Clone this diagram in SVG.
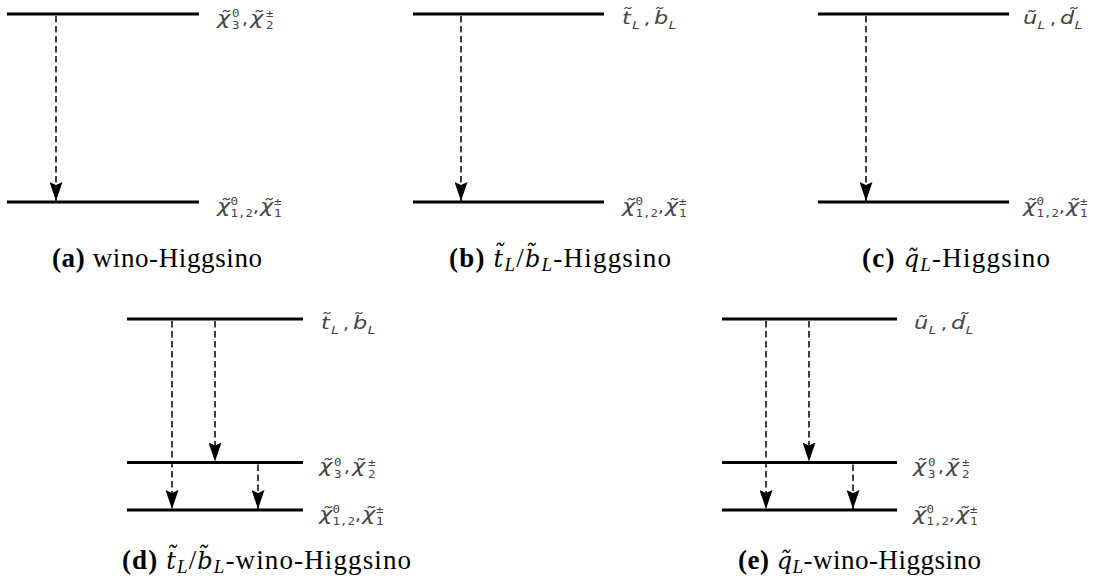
<svg xmlns="http://www.w3.org/2000/svg" width="1119" height="586" viewBox="0 0 1119 586">
<style>
.lvl{stroke:#000;stroke-width:3;fill:none}
.arr{stroke:#000;stroke-width:1.5;stroke-dasharray:6.5 3.5;fill:none;marker-end:url(#ah)}
.lb{font-family:"DejaVu Sans",sans-serif;font-size:18px;fill:#444;font-style:italic}
.sc{font-family:"DejaVu Sans Mono",monospace;font-size:10px;font-style:normal}
.sl{font-family:"DejaVu Sans Mono",monospace;font-size:11px;font-style:italic}
.cm{font-family:"DejaVu Sans",sans-serif;font-size:16px;font-style:normal}
.cap{font-family:"Liberation Serif",serif;font-size:27px;fill:#000}
.b{font-weight:bold}
.i{font-style:italic;font-family:"DejaVu Serif","Liberation Serif",serif;font-size:24px}
.s{font-size:19px;font-style:italic}
</style>
<defs>
<marker id="ah" viewBox="0 0 19 13" refX="19" refY="6.5" markerWidth="19" markerHeight="13" markerUnits="userSpaceOnUse" orient="auto">
<path d="M0,0 L19,6.5 L0,13 L3,6.5 Z" fill="#000"/>
</marker>
</defs>

<g id="panel-a">
<line class="lvl" x1="7" y1="14" x2="199" y2="14"/>
<line class="lvl" x1="7" y1="202" x2="199" y2="202"/>
<text class="lb" transform="translate(217,23.5) scale(1.25,1)"><tspan x="0" y="0">χ̃</tspan><tspan class="sc" x="12" y="-6.5">0</tspan><tspan class="sc" x="12" y="5.5">3</tspan><tspan class="cm" x="19.8" y="0">,</tspan><tspan x="26.4" y="0">χ̃</tspan><tspan class="sc" x="39.2" y="-6.5">±</tspan><tspan class="sc" x="39.2" y="5.5">2</tspan></text>
<text class="lb" transform="translate(217,211.5) scale(1.25,1)"><tspan x="0" y="0">χ̃</tspan><tspan class="sc" x="10.8" y="-6.5">0</tspan><tspan class="sc" x="10.8" y="5.5">1,2</tspan><tspan class="cm" x="28.7" y="0">,</tspan><tspan x="34.4" y="0">χ̃</tspan><tspan class="sc" x="45.6" y="-6.5">±</tspan><tspan class="sc" x="45.6" y="5.5">1</tspan></text>
<text class="cap" x="52" y="267" textLength="210" lengthAdjust="spacing"><tspan class="b">(a)</tspan> wino-Higgsino</text>
</g>

<g id="panel-b">
<line class="lvl" x1="413" y1="14" x2="604" y2="14"/>
<line class="lvl" x1="413" y1="202" x2="604" y2="202"/>
<text class="lb" transform="translate(622,23.5) scale(1.25,1)"><tspan x="0" y="0">t̃</tspan><tspan class="sl" x="8" y="5">L</tspan><tspan class="cm" x="17.5" y="0">,</tspan><tspan x="25.6" y="0">b̃</tspan><tspan class="sl" x="37.2" y="5">L</tspan></text>
<text class="lb" transform="translate(622,211.5) scale(1.25,1)"><tspan x="0" y="0">χ̃</tspan><tspan class="sc" x="10.8" y="-6.5">0</tspan><tspan class="sc" x="10.8" y="5.5">1,2</tspan><tspan class="cm" x="28.7" y="0">,</tspan><tspan x="34.4" y="0">χ̃</tspan><tspan class="sc" x="45.6" y="-6.5">±</tspan><tspan class="sc" x="45.6" y="5.5">1</tspan></text>
<text class="cap" x="449" y="267" textLength="222" lengthAdjust="spacing"><tspan class="b">(b)</tspan> <tspan class="i">t̃</tspan><tspan class="s" dy="4">L</tspan><tspan dy="-4">/</tspan><tspan class="i">b̃</tspan><tspan class="s" dy="4">L</tspan><tspan dy="-4">-Higgsino</tspan></text>
</g>

<g id="panel-c">
<line class="lvl" x1="818" y1="14" x2="1009" y2="14"/>
<line class="lvl" x1="818" y1="202" x2="1009" y2="202"/>
<text class="lb" transform="translate(1023,23.5) scale(1.25,1)"><tspan x="0" y="0">ũ</tspan><tspan class="sl" x="11.6" y="5">L</tspan><tspan class="cm" x="21.5" y="0">,</tspan><tspan x="29.6" y="0">d̃</tspan><tspan class="sl" x="41.2" y="5">L</tspan></text>
<text class="lb" transform="translate(1023,211.5) scale(1.25,1)"><tspan x="0" y="0">χ̃</tspan><tspan class="sc" x="10.8" y="-6.5">0</tspan><tspan class="sc" x="10.8" y="5.5">1,2</tspan><tspan class="cm" x="28.7" y="0">,</tspan><tspan x="34.4" y="0">χ̃</tspan><tspan class="sc" x="45.6" y="-6.5">±</tspan><tspan class="sc" x="45.6" y="5.5">1</tspan></text>
<text class="cap" x="862" y="267" textLength="188" lengthAdjust="spacing"><tspan class="b">(c)</tspan> <tspan class="i">q̃</tspan><tspan class="s" dy="4">L</tspan><tspan dy="-4">-Higgsino</tspan></text>
</g>

<g id="panel-d">
<line class="lvl" x1="127" y1="319" x2="303" y2="319"/>
<line class="lvl" x1="127" y1="462.5" x2="303" y2="462.5"/>
<line class="lvl" x1="127" y1="510" x2="303" y2="510"/>
<text class="lb" transform="translate(321,328.5) scale(1.25,1)"><tspan x="0" y="0">t̃</tspan><tspan class="sl" x="8" y="5">L</tspan><tspan class="cm" x="17.5" y="0">,</tspan><tspan x="25.6" y="0">b̃</tspan><tspan class="sl" x="37.2" y="5">L</tspan></text>
<text class="lb" transform="translate(319,472) scale(1.25,1)"><tspan x="0" y="0">χ̃</tspan><tspan class="sc" x="12" y="-6.5">0</tspan><tspan class="sc" x="12" y="5.5">3</tspan><tspan class="cm" x="19.8" y="0">,</tspan><tspan x="26.4" y="0">χ̃</tspan><tspan class="sc" x="39.2" y="-6.5">±</tspan><tspan class="sc" x="39.2" y="5.5">2</tspan></text>
<text class="lb" transform="translate(319,519.5) scale(1.25,1)"><tspan x="0" y="0">χ̃</tspan><tspan class="sc" x="10.8" y="-6.5">0</tspan><tspan class="sc" x="10.8" y="5.5">1,2</tspan><tspan class="cm" x="28.7" y="0">,</tspan><tspan x="34.4" y="0">χ̃</tspan><tspan class="sc" x="45.6" y="-6.5">±</tspan><tspan class="sc" x="45.6" y="5.5">1</tspan></text>
<text class="cap" x="122" y="569" textLength="289" lengthAdjust="spacing"><tspan class="b">(d)</tspan> <tspan class="i">t̃</tspan><tspan class="s" dy="4">L</tspan><tspan dy="-4">/</tspan><tspan class="i">b̃</tspan><tspan class="s" dy="4">L</tspan><tspan dy="-4">-wino-Higgsino</tspan></text>
</g>

<g id="panel-e">
<line class="lvl" x1="722" y1="319" x2="897" y2="319"/>
<line class="lvl" x1="722" y1="462.5" x2="897" y2="462.5"/>
<line class="lvl" x1="722" y1="510" x2="897" y2="510"/>
<text class="lb" transform="translate(914,328.5) scale(1.25,1)"><tspan x="0" y="0">ũ</tspan><tspan class="sl" x="11.6" y="5">L</tspan><tspan class="cm" x="21.5" y="0">,</tspan><tspan x="29.6" y="0">d̃</tspan><tspan class="sl" x="41.2" y="5">L</tspan></text>
<text class="lb" transform="translate(913,472) scale(1.25,1)"><tspan x="0" y="0">χ̃</tspan><tspan class="sc" x="12" y="-6.5">0</tspan><tspan class="sc" x="12" y="5.5">3</tspan><tspan class="cm" x="19.8" y="0">,</tspan><tspan x="26.4" y="0">χ̃</tspan><tspan class="sc" x="39.2" y="-6.5">±</tspan><tspan class="sc" x="39.2" y="5.5">2</tspan></text>
<text class="lb" transform="translate(913,519.5) scale(1.25,1)"><tspan x="0" y="0">χ̃</tspan><tspan class="sc" x="10.8" y="-6.5">0</tspan><tspan class="sc" x="10.8" y="5.5">1,2</tspan><tspan class="cm" x="28.7" y="0">,</tspan><tspan x="34.4" y="0">χ̃</tspan><tspan class="sc" x="45.6" y="-6.5">±</tspan><tspan class="sc" x="45.6" y="5.5">1</tspan></text>
<text class="cap" x="738" y="569" textLength="243" lengthAdjust="spacing"><tspan class="b">(e)</tspan> <tspan class="i">q̃</tspan><tspan class="s" dy="4">L</tspan><tspan dy="-4">-wino-Higgsino</tspan></text>
</g>

<g id="connectors">
<line class="arr" x1="56" y1="16" x2="56" y2="201"/>
<line class="arr" x1="461" y1="16" x2="461" y2="201"/>
<line class="arr" x1="866" y1="16" x2="866" y2="201"/>
<line class="arr" x1="172" y1="321" x2="172" y2="509"/>
<line class="arr" x1="215" y1="321" x2="215" y2="461.5"/>
<line class="arr" x1="258" y1="464.5" x2="258" y2="509"/>
<line class="arr" x1="766" y1="321" x2="766" y2="509"/>
<line class="arr" x1="809" y1="321" x2="809" y2="461.5"/>
<line class="arr" x1="853" y1="464.5" x2="853" y2="509"/>
</g>
</svg>
